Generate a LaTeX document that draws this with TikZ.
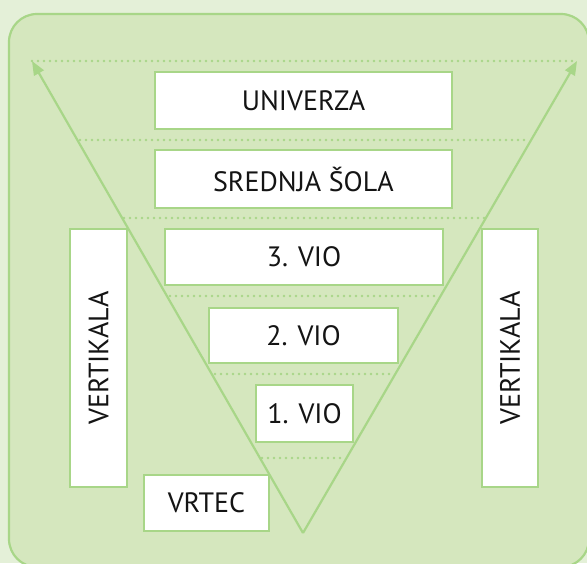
\documentclass[tikz,border=0pt]{standalone}
\usepackage{fontspec}
\setmainfont{PT Sans}
\usetikzlibrary{arrows.meta}
\definecolor{outerbg}{RGB}{228,240,216}
\definecolor{innerbg}{RGB}{213,231,190}
\definecolor{gline}{RGB}{168,214,136}
\definecolor{txt}{RGB}{20,20,20}
\tikzset{
  box/.style={draw=gline, line width=2.6pt, fill=white, inner sep=0pt,
    font=\fontsize{28}{32}\selectfont, text=txt},
  dotline/.style={draw=gline, line width=2.6pt, line cap=round, dash pattern=on 0pt off 6pt},
  tri/.style={draw=gline, line width=2.2pt, -{Triangle[length=14pt,width=11pt]}},
}
\begin{document}
\begin{tikzpicture}[x=1pt,y=-1pt]
\useasboundingbox (0,0) rectangle (587,563);
\fill[outerbg] (0,0) rectangle (587,563);
\draw[draw=gline, fill=innerbg, line width=2.2pt, rounded corners=28pt] (9,14) rectangle (589,567);
% dotted level lines
\coordinate (d1a) at (32,61);  \coordinate (d1b) at (577,61);
\coordinate (d2a) at (80,140); \coordinate (d2b) at (528,140);
\coordinate (d3a) at (124,218); \coordinate (d3b) at (484,218);
\coordinate (d4a) at (170,296); \coordinate (d4b) at (438,296);
\coordinate (d5a) at (215,374); \coordinate (d5b) at (393,374);
\coordinate (d6a) at (262,458); \coordinate (d6b) at (345,458);
\foreach \i in {1,...,6} { \draw[dotline] (d\i a) -- (d\i b); }
% triangle
\coordinate (apex) at (303,533);
\coordinate (tipL) at (32,61);
\coordinate (tipR) at (577,61);
\draw[tri] (apex) -- (tipL);
\draw[tri] (apex) -- (tipR);
% boxes
\node[box, minimum width=297pt, minimum height=57pt] (univ) at (303.5,100.5) {UNIVERZA};
\node[box, minimum width=297pt, minimum height=58pt] (sred) at (303.5,179) {SREDNJA ŠOLA};
\node[box, minimum width=278pt, minimum height=56pt] (vio3) at (304,257) {3. VIO};
\node[box, minimum width=189pt, minimum height=55pt] (vio2) at (303.5,335.5) {2. VIO};
\node[box, minimum width=97pt, minimum height=57pt] (vio1) at (304.5,413.5) {1. VIO};
\node[box, minimum width=125pt, minimum height=56pt] (vrtec) at (206.5,503) {VRTEC};
\node[box, rotate=90, minimum width=258pt, minimum height=57pt] (vertL) at (98.5,358) {VERTIKALA};
\node[box, rotate=90, minimum width=258pt, minimum height=56pt] (vertR) at (510,358) {VERTIKALA};
\end{tikzpicture}
\end{document}
